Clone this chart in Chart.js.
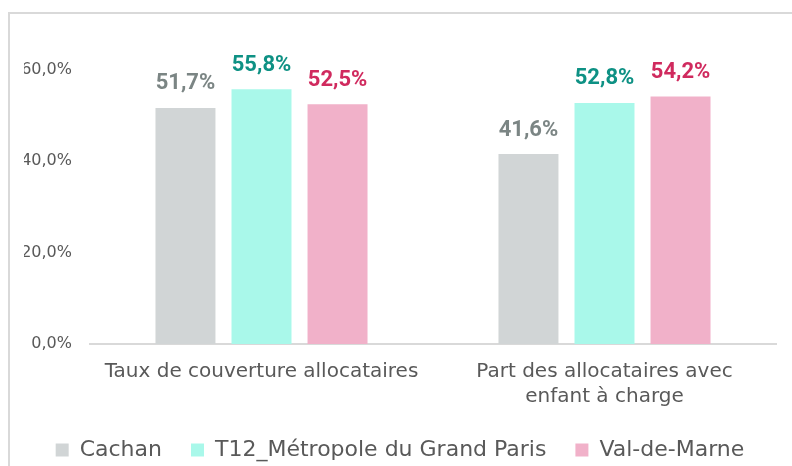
<!DOCTYPE html>
<html>
<head>
<meta charset="utf-8">
<script src="https://cdn.jsdelivr.net/npm/chart.js@4/dist/chart.umd.min.js"></script>
<style>
  html, body { margin: 0; padding: 0; background: #fff; overflow: hidden; }
  .wrap { position: relative; width: 792px; height: 466px; }
  .frame { position: absolute; left: 8px; top: 12px; width: 900px; height: 600px; border: 2px solid #d9d9d9; }
  canvas { position: absolute; left: 0; top: 0; }
</style>
</head>
<body>
<div class="wrap">
  <div class="frame"></div>
  <canvas id="chart" width="792" height="466"></canvas>
</div>
<script>
const categories = [
    "Taux de couverture allocataires",
    ["Part des allocataires avec", "enfant à charge"]
];
const seriesNames = ["Cachan", "T12_Métropole du Grand Paris", "Val-de-Marne"];
const cachan = [0.517, 0.416];
const metropole = [0.558, 0.528];
const valDeMarne = [0.525, 0.542];
const yTicks = [0, 0.2, 0.4, 0.6];

const barColors = ["#d1d5d6", "#a9f8ea", "#f1b1c9"];
const labelColors = ["#7b8584", "#0e9184", "#d02a5e"];

const fmt = v => (v * 100).toFixed(1).replace(".", ",") + "%";

// draws the value above every bar
const valueLabels = {
    id: "valueLabels",
    afterDatasetsDraw(chart) {
        const ctx = chart.ctx;
        ctx.save();
        ctx.font = "bold 22px Roboto";
        ctx.textAlign = "center";
        ctx.textBaseline = "middle";
        chart.data.datasets.forEach((ds, i) => {
            const meta = chart.getDatasetMeta(i);
            meta.data.forEach((bar, j) => {
                ctx.fillStyle = labelColors[i];
                ctx.fillText(fmt(ds.data[j]), bar.x, bar.y - 24);
            });
        });
        ctx.restore();
    }
};

const data = {
    labels: categories,
    datasets: [cachan, metropole, valDeMarne].map((values, i) => ({
        label: seriesNames[i],
        data: values,
        backgroundColor: barColors[i],
        borderWidth: 0,
        categoryPercentage: 0.665,
        barPercentage: 0.789
    }))
};

const options = {
    responsive: false,
    animation: false,
    layout: {padding: {top: 70, right: 16, bottom: -5, left: 24}},
    plugins: {
        tooltip: {enabled: false},
        legend: {
            position: "bottom",
            labels: {
                boxWidth: 13,
                boxHeight: 13,
                padding: 29,
                color: "#595959",
                font: {family: "DejaVu Sans", size: 22}
            }
        }
    },
    scales: {
        x: {
            grid: {display: false, drawTicks: false},
            border: {color: "#d9d9d9", width: 2},
            ticks: {
                padding: 15,
                color: "#595959",
                maxRotation: 0,
                autoSkip: false,
                font: {family: "DejaVu Sans", size: 20, lineHeight: 1.25}
            },
            afterFit(scale) { scale.height = 66; }
        },
        y: {
            min: 0,
            max: 0.6,
            grid: {display: false, drawTicks: false},
            border: {display: false},
            afterBuildTicks(scale) { scale.ticks = yTicks.map(v => ({value: v})); },
            ticks: {
                padding: 18,
                color: "#595959",
                font: {family: "DejaVu Sans", size: 16},
                callback: v => fmt(v)
            },
            afterFit(scale) { scale.width = 66; }
        }
    }
};

new Chart(document.getElementById("chart").getContext("2d"), {
    type: "bar",
    data: data,
    options: options,
    plugins: [valueLabels]
});
</script>
</body>
</html>
